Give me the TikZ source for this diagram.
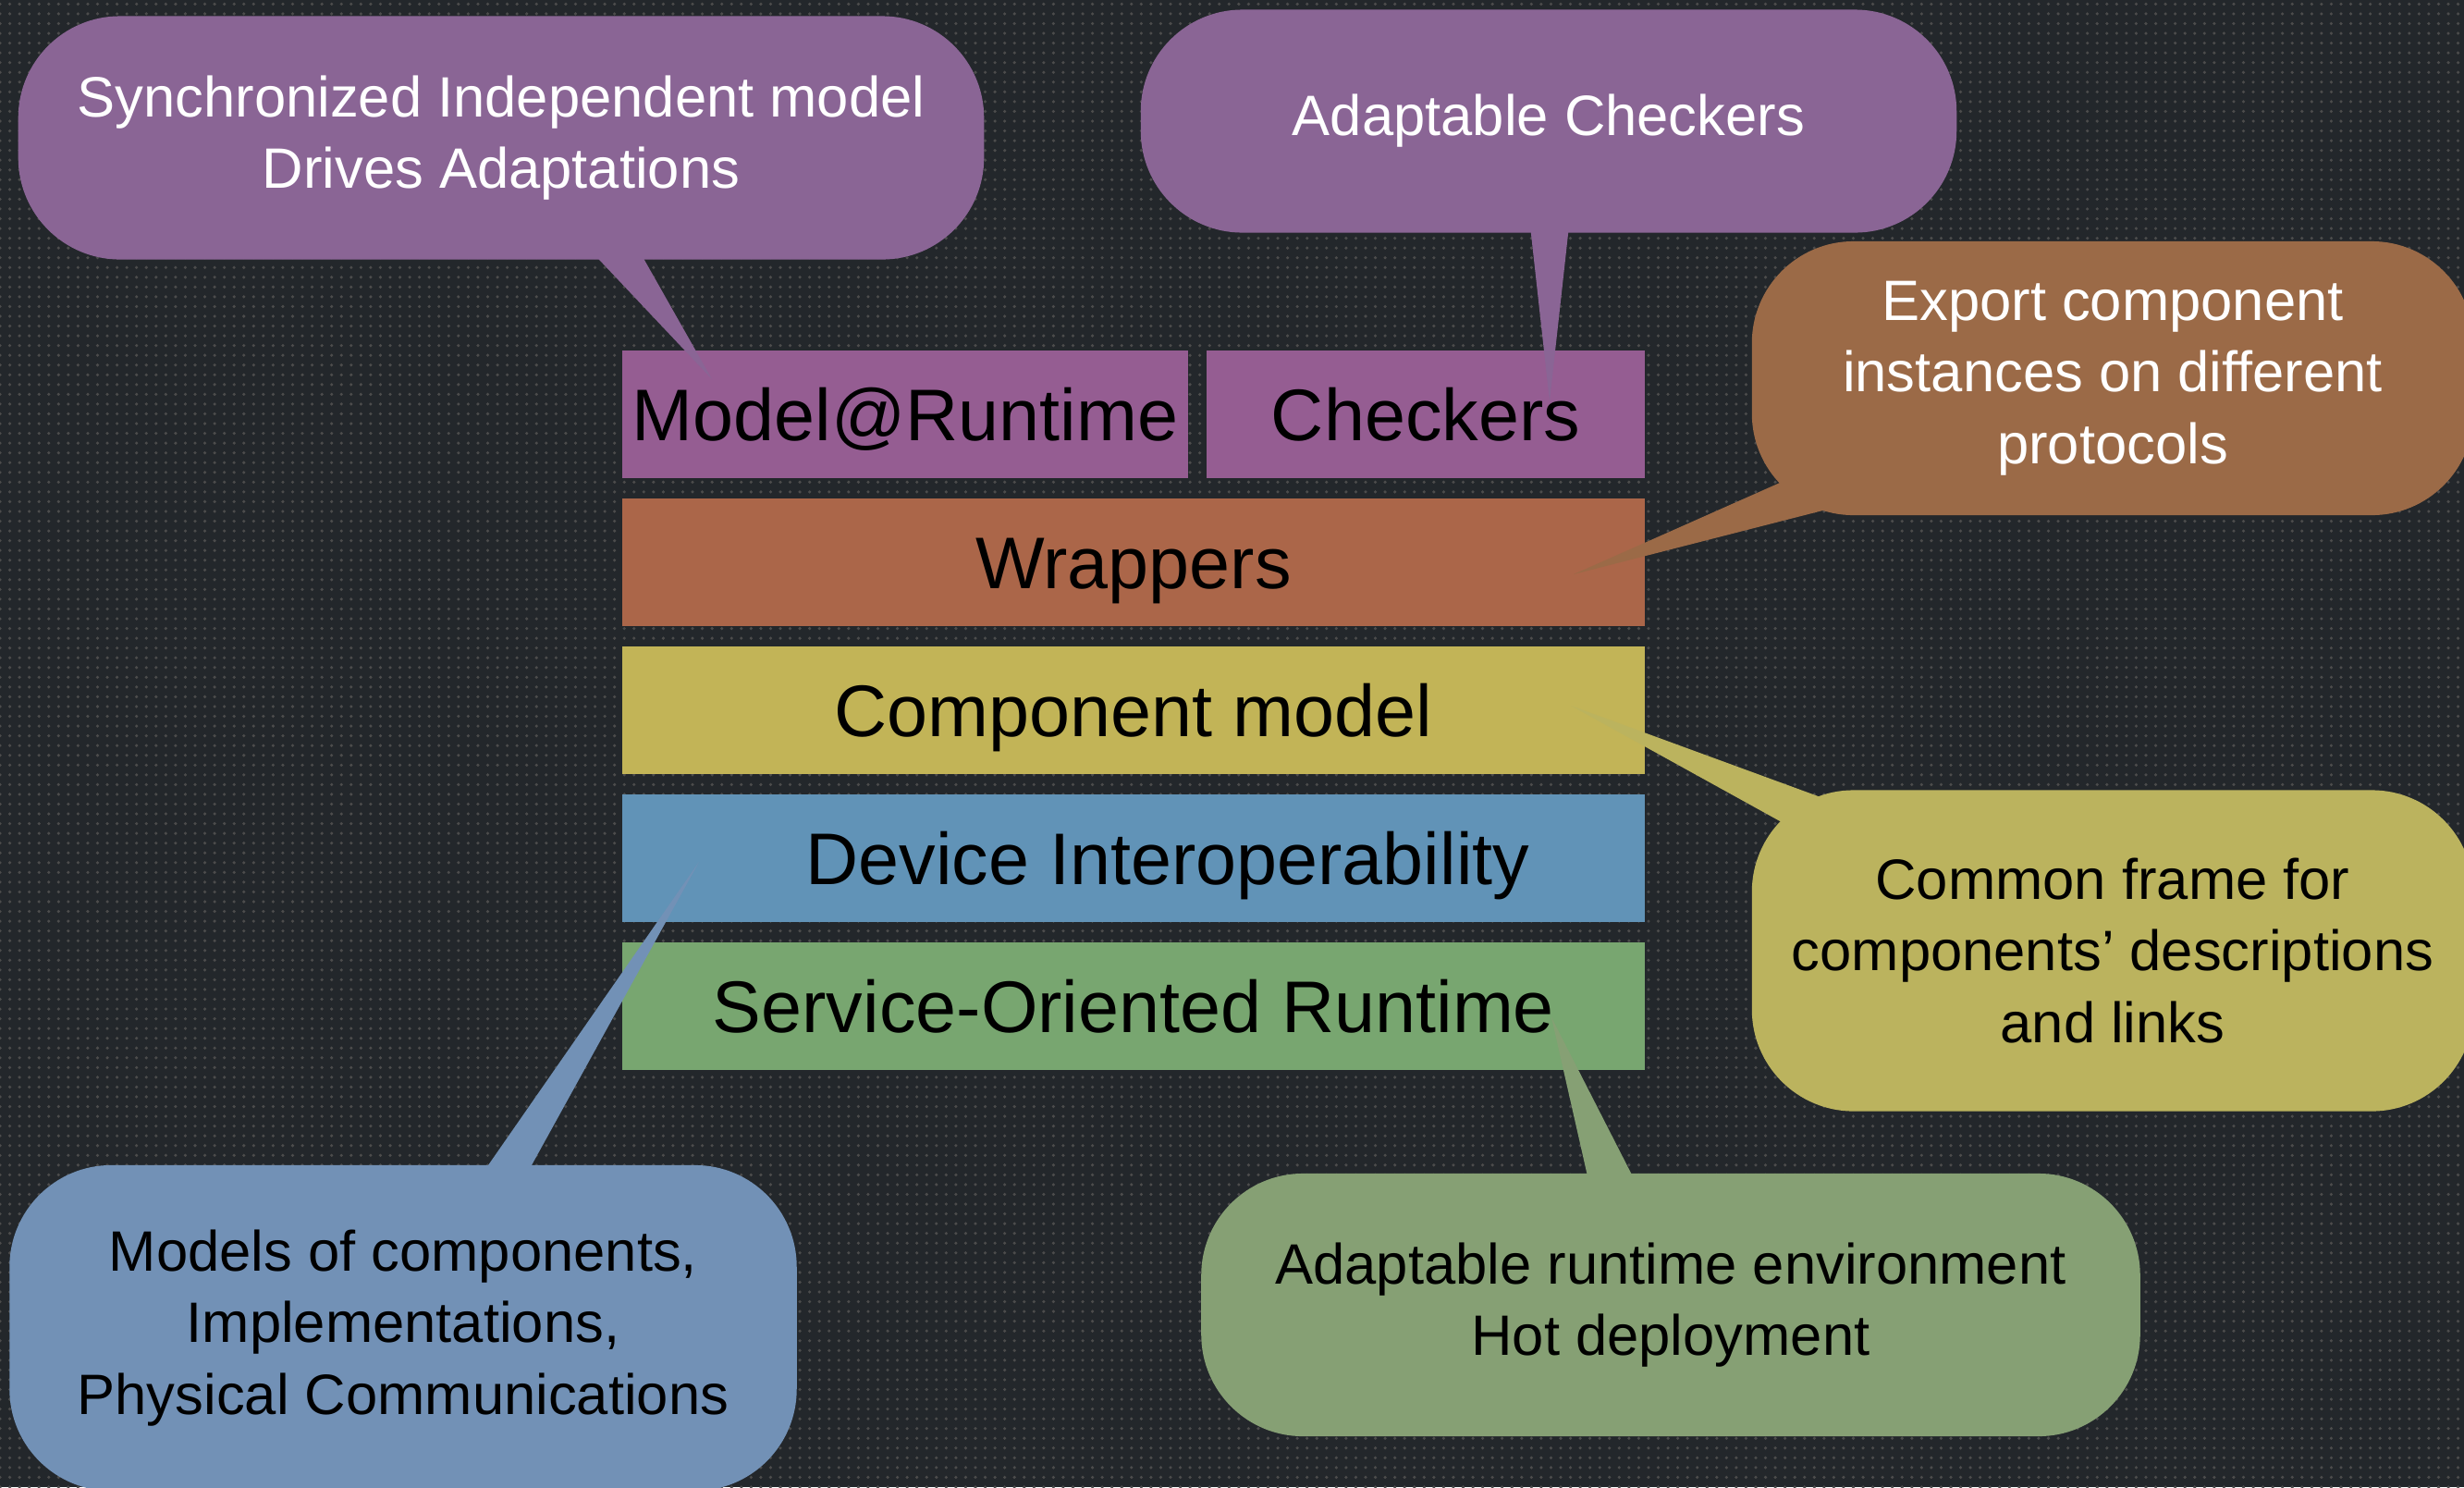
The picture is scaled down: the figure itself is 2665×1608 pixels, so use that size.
\documentclass[tikz,border=0pt]{standalone}
\usepackage{fontspec}
\setmainfont{Liberation Sans}
\usetikzlibrary{calc,patterns}

\definecolor{bgdark}{HTML}{23272B}
\definecolor{boxpurple}{HTML}{955D92}
\definecolor{notepurple}{HTML}{8A6595}
\definecolor{boxbrown}{HTML}{AB6649}
\definecolor{notebrown}{HTML}{9B6A47}
\definecolor{boxyellow}{HTML}{C2B457}
\definecolor{noteyellow}{HTML}{BBB35E}
\definecolor{boxblue}{HTML}{6193B7}
\definecolor{noteblue}{HTML}{7291B6}
\definecolor{boxgreen}{HTML}{78A670}
\definecolor{notegreen}{HTML}{86A074}

\begin{document}
\begin{tikzpicture}[x=0.01cm,y=-0.01cm,
  layer/.style={rectangle, inner sep=0pt, minimum height=1.37cm, text height=0.57cm, text depth=0pt,
    font=\fontsize{22.5}{27}\selectfont, text=black},
  note/.style={rectangle, rounded corners=1.1cm, inner sep=0pt, align=center, font=\fontsize{17.5}{22}\selectfont}]
\useasboundingbox (0,0) rectangle (2665,1608);
\fill[bgdark] (0,0) rectangle (2665,1608);
\fill[pattern=dots, pattern color=black!70] (0,0) rectangle (2665,1608);

\node[layer, fill=boxpurple, minimum width=6.12cm] (model) at (979,448) {Model@Runtime};
\node[layer, fill=boxpurple, minimum width=4.74cm] (checkers) at (1542,448) {Checkers};
\node[layer, fill=boxbrown, minimum width=11.06cm] (wrappers) at (1226,608) {Wrappers};
\node[layer, fill=boxyellow, minimum width=11.06cm] (component) at (1226,768) {Component model};
\node[layer, fill=boxblue, minimum width=11.06cm] (device) at (1226,928) {\hspace*{0.74cm}Device Interoperability};
\node[layer, fill=boxgreen, minimum width=11.06cm] (service) at (1226,1088) {Service-Oriented Runtime};

\node[note, fill=notepurple, text=white, minimum width=10.44cm, minimum height=2.63cm] (syncnote) at (542,149) {Synchronized Independent model\\Drives Adaptations};
\node[note, fill=notepurple, text=white, minimum width=8.82cm, minimum height=2.41cm] (checknote) at (1675,131) {Adaptable Checkers};
\node[note, fill=notebrown, text=white, minimum width=7.8cm, minimum height=2.96cm] (exportnote) at (2285,409) {Export component\\instances on different\\protocols};
\node[note, fill=noteyellow, minimum width=7.8cm, minimum height=3.47cm] (framenote) at (2285,1028) {Common frame for\\components’ descriptions\\and links};
\node[note, fill=notegreen, minimum width=10.15cm, minimum height=2.84cm] (runtimenote) at (1807,1411) {Adaptable runtime environment\\Hot deployment};
\node[note, fill=noteblue, minimum width=8.51cm, minimum height=3.52cm] (modelsnote) at (436,1436) {Models of components,\\Implementations,\\Physical Communications};

\coordinate (synctip) at (770,410);
\coordinate (checktip) at (1676,434);
\coordinate (exporttip) at (1702,621);
\coordinate (frametip) at (1699,763);
\coordinate (runtimetip) at (1678,1100);
\coordinate (modelstip) at (756,932);

\fill[notepurple] ($(syncnote.south)+(98,-9)$) -- (synctip) -- ($(syncnote.south)+(150,-9)$) -- cycle;
\fill[notepurple] ($(checknote.south)+(-20,-8)$) -- (checktip) -- ($(checknote.south)+(22,-8)$) -- cycle;
\fill[notebrown] ($(exportnote.south west)+(45,-42)$) -- (exporttip) -- ($(exportnote.south west)+(90,-9)$) -- cycle;
\fill[noteyellow] ($(framenote.north west)+(77,9)$) -- (frametip) -- ($(framenote.north west)+(36,37)$) -- cycle;
\fill[notegreen] ($(runtimenote.north)+(-89,8)$) -- (runtimetip) -- ($(runtimenote.north)+(-39,8)$) -- cycle;
\fill[noteblue] ($(modelsnote.north)+(87,8)$) -- (modelstip) -- ($(modelsnote.north)+(135,8)$) -- cycle;
\end{tikzpicture}
\end{document}
